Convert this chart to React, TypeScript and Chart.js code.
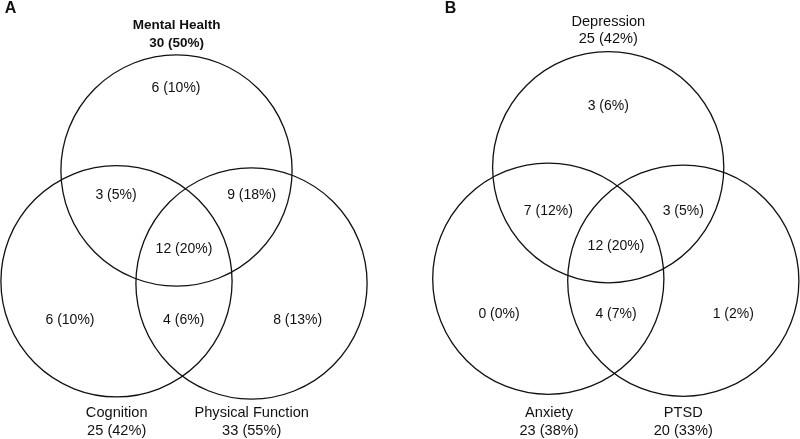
import React, { useEffect, useRef } from "react";
import { Chart, registerables } from "chart.js";

Chart.register(...registerables);

// ---------- data ----------
const panelLetters = ["A", "B"];
const panelLetterPos = [
  { x: 10.5, y: 9 },
  { x: 450.5, y: 8.5 },
];

// Panel A
const setNamesA = ["Mental Health", "Cognition", "Physical Function"];
const setTotalsA = [30, 25, 33];
const setPctA = [50, 42, 55];
const setBoldA = [true, false, false];
const circleCentersA = [
  { x: 176.5, y: 170.5 },
  { x: 116.5, y: 281.3 },
  { x: 251.5, y: 283.5 },
];
const setLabelPosA = [
  { x: 176.7, y: 25.7 },
  { x: 116.7, y: 413.3 },
  { x: 251.7, y: 413.3 },
];
// regions: MH only, MH∩Cog, MH∩PF, all, Cog only, Cog∩PF, PF only
const regionCountsA = [6, 3, 9, 12, 6, 4, 8];
const regionPctA = [10, 5, 18, 20, 10, 6, 13];
const regionPosA = [
  { x: 176, y: 88.3 },
  { x: 116, y: 195 },
  { x: 251.7, y: 195 },
  { x: 184, y: 249.3 },
  { x: 70, y: 320 },
  { x: 183.7, y: 320 },
  { x: 297.7, y: 320 },
];

// Panel B
const setNamesB = ["Depression", "Anxiety", "PTSD"];
const setTotalsB = [25, 23, 20];
const setPctB = [42, 38, 33];
const setBoldB = [false, false, false];
const circleCentersB = [
  { x: 608.2, y: 167.2 },
  { x: 548.3, y: 278.7 },
  { x: 683.3, y: 280.7 },
];
const setLabelPosB = [
  { x: 608.3, y: 21.7 },
  { x: 549, y: 413.3 },
  { x: 683.3, y: 413.3 },
];
// regions: Dep only, Dep∩Anx, Dep∩PTSD, all, Anx only, Anx∩PTSD, PTSD only
const regionCountsB = [3, 7, 3, 12, 0, 4, 1];
const regionPctB = [6, 12, 5, 20, 0, 7, 2];
const regionPosB = [
  { x: 608.3, y: 106 },
  { x: 548.3, y: 210.7 },
  { x: 683.3, y: 210.7 },
  { x: 616, y: 246 },
  { x: 499, y: 314 },
  { x: 616, y: 314 },
  { x: 733.3, y: 314 },
];

const circleRadius = 115.6;

const FONT = '"Liberation Sans", Arial, Helvetica, sans-serif';
const TEXT_COLOR = "#111111";

const fmt = (n: number, p: number) => `${n} (${p}%)`;

// ---------- plugin to draw text labels at data positions ----------
const textPlugin = {
  id: "vennText",
  afterDatasetsDraw(chart: any) {
    const ctx = chart.ctx;
    const xs = chart.scales.x;
    const ys = chart.scales.y;
    ctx.save();
    ctx.fillStyle = TEXT_COLOR;
    ctx.textAlign = "center";
    ctx.textBaseline = "middle";
    chart.data.datasets.forEach((ds: any) => {
      if (!ds.textLabels) return;
      ds.data.forEach((pt: any, i: number) => {
        const lbl = ds.textLabels[i];
        const px = xs.getPixelForValue(pt.x);
        const py = ys.getPixelForValue(pt.y);
        const lines: string[] = Array.isArray(lbl.text) ? lbl.text : [lbl.text];
        ctx.font = `${lbl.bold ? "bold " : ""}${lbl.size}px ${FONT}`;
        lines.forEach((line, j) => {
          ctx.fillText(line, px, py + j * lbl.lineHeight);
        });
      });
    });
    ctx.restore();
  },
};

function buildDatasets() {
  const radiusFn = (c: any) => {
    const s = c.chart.scales.x;
    return Math.abs(s.getPixelForValue(circleRadius) - s.getPixelForValue(0));
  };
  const circleDs = (centers: { x: number; y: number }[]) => ({
    type: "scatter",
    data: centers,
    pointRadius: radiusFn,
    pointHoverRadius: radiusFn,
    pointBackgroundColor: "rgba(0,0,0,0)",
    pointBorderColor: "#111111",
    pointBorderWidth: 1.3,
    pointHoverBorderWidth: 1.3,
    clip: false,
  });
  const textDs = (positions: { x: number; y: number }[], labels: any[]) => ({
    type: "scatter",
    data: positions,
    pointRadius: 0,
    pointHoverRadius: 0,
    textLabels: labels,
    clip: false,
  });

  const setLabels = (names: string[], totals: number[], pct: number[], bold: boolean[]) =>
    names.map((n, i) => ({
      text: [n, fmt(totals[i], pct[i])],
      bold: bold[i],
      size: bold[i] ? 13.5 : 14.6,
      lineHeight: 17.6,
    }));
  const regionLabels = (counts: number[], pct: number[]) =>
    counts.map((c, i) => ({ text: fmt(c, pct[i]), bold: false, size: 14, lineHeight: 0 }));
  const letterLabels = panelLetters.map((l) => ({ text: l, bold: true, size: 16, lineHeight: 0 }));

  return [
    circleDs(circleCentersA),
    circleDs(circleCentersB),
    textDs(setLabelPosA, setLabels(setNamesA, setTotalsA, setPctA, setBoldA)),
    textDs(setLabelPosB, setLabels(setNamesB, setTotalsB, setPctB, setBoldB)),
    textDs(regionPosA, regionLabels(regionCountsA, regionPctA)),
    textDs(regionPosB, regionLabels(regionCountsB, regionPctB)),
    textDs(panelLetterPos, letterLabels),
  ];
}

export default function App() {
  const canvasRef = useRef<HTMLCanvasElement | null>(null);

  useEffect(() => {
    document.body.style.margin = "0";
    document.body.style.overflow = "hidden";
    const canvas = canvasRef.current;
    if (!canvas) return;
    const chart = new Chart(canvas, {
      type: "scatter",
      data: { datasets: buildDatasets() as any },
      options: {
        animation: false,
        responsive: false,
        maintainAspectRatio: false,
        devicePixelRatio: 1,
        layout: { padding: 0 },
        events: [],
        plugins: {
          legend: { display: false },
          tooltip: { enabled: false },
          title: { display: false },
        },
        scales: {
          x: { type: "linear", min: 0, max: 800, display: false },
          y: { type: "linear", min: 0, max: 439, reverse: true, display: false },
        },
      },
      plugins: [textPlugin],
    });
    return () => chart.destroy();
  }, []);

  return (
    <div style={{ width: 800, height: 439, background: "#ffffff" }}>
      <canvas ref={canvasRef} width={800} height={439} style={{ display: "block" }} />
    </div>
  );
}
